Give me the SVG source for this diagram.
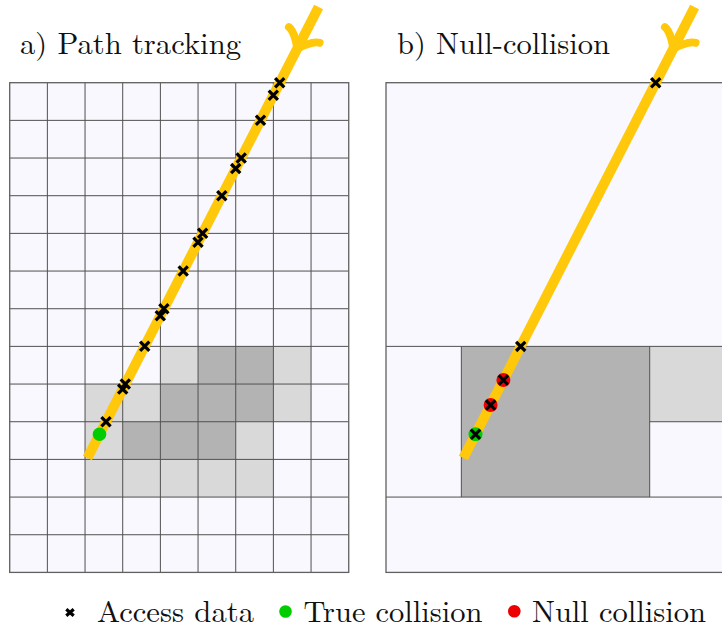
<svg xmlns="http://www.w3.org/2000/svg" width="722" height="630" viewBox="0 0 722 630">
<defs>
<style>
.bg{fill:#f8f8fe}
.lt{fill:#d9d9d9}
.dk{fill:#b3b3b3}
.grid{fill:none;stroke:#505050;stroke-width:1}
.border{fill:none;stroke:#606060;stroke-width:1.3}
.ray{fill:none;stroke:#ffc80a;stroke-width:10;stroke-linecap:butt}
.barb{fill:none;stroke:#ffc80a;stroke-width:8;stroke-linecap:round;stroke-linejoin:round}
.xm{fill:none;stroke:#000;stroke-width:3.2;stroke-linecap:butt}
</style>
<path id="cross" class="xm" d="M-4.6,-4.6L4.6,4.6M-4.6,4.6L4.6,-4.6"/>
<path id="barbs" class="barb" d="M-16.1,-17.2C-15.05,-10.75 -3.2,-1.08 0,0C-3.2,1.08 -15.05,10.75 -16.1,17.2"/>
</defs>

<g id="title-a"><text font-family="'Latin Modern Roman','Liberation Serif',serif" font-size="30" fill="#111" x="20" y="53.5" textLength="221" lengthAdjust="spacingAndGlyphs">a) Path tracking</text></g>
<g id="title-b"><text font-family="'Latin Modern Roman','Liberation Serif',serif" font-size="30" fill="#111" x="397" y="53.5" textLength="213" lengthAdjust="spacingAndGlyphs">b) Null-collision</text></g>

<g id="panel-a">
<rect class="bg" x="9.7" y="82.7" width="339.03" height="489.71"/>
<g id="cells-a">
<rect class="lt" x="160.38" y="346.39" width="37.67" height="37.67"/>
<rect class="dk" x="198.05" y="346.39" width="37.67" height="37.67"/>
<rect class="dk" x="235.72" y="346.39" width="37.67" height="37.67"/>
<rect class="lt" x="273.39" y="346.39" width="37.67" height="37.67"/>
<rect class="lt" x="85.04" y="384.06" width="37.67" height="37.67"/>
<rect class="lt" x="122.71" y="384.06" width="37.67" height="37.67"/>
<rect class="dk" x="160.38" y="384.06" width="37.67" height="37.67"/>
<rect class="dk" x="198.05" y="384.06" width="37.67" height="37.67"/>
<rect class="dk" x="235.72" y="384.06" width="37.67" height="37.67"/>
<rect class="lt" x="273.39" y="384.06" width="37.67" height="37.67"/>
<rect class="lt" x="85.04" y="421.73" width="37.67" height="37.67"/>
<rect class="dk" x="122.71" y="421.73" width="37.67" height="37.67"/>
<rect class="dk" x="160.38" y="421.73" width="37.67" height="37.67"/>
<rect class="dk" x="198.05" y="421.73" width="37.67" height="37.67"/>
<rect class="lt" x="235.72" y="421.73" width="37.67" height="37.67"/>
<rect class="lt" x="85.04" y="459.4" width="188.35" height="37.67"/>
</g>
<path class="grid" d="M47.37,82.7V572.41M85.04,82.7V572.41M122.71,82.7V572.41M160.38,82.7V572.41M198.05,82.7V572.41M235.72,82.7V572.41M273.39,82.7V572.41M311.06,82.7V572.41
M9.7,120.37H348.73M9.7,158.04H348.73M9.7,195.71H348.73M9.7,233.38H348.73M9.7,271.05H348.73M9.7,308.72H348.73M9.7,346.39H348.73M9.7,384.06H348.73M9.7,421.73H348.73M9.7,459.4H348.73M9.7,497.07H348.73M9.7,534.74H348.73"/>
<rect class="border" x="9.7" y="82.7" width="339.03" height="489.71"/>
</g>

<g id="panel-b">
<rect class="bg" x="386" y="82.7" width="339" height="489.71"/>
<rect class="dk" x="461.34" y="346.39" width="188.35" height="150.68"/>
<rect class="lt" x="649.69" y="346.39" width="75.31" height="75.34"/>
<path class="grid" d="M386,346.39H725M386,497.07H725M461.34,346.39V497.07M649.69,346.39V497.07M649.69,421.73H725"/>
<rect class="border" x="386" y="82.7" width="339" height="489.71"/>
</g>

<g id="connectors">
<g id="ray-a">
<path class="ray" d="M87.4,458L318.6,7"/>
<use href="#barbs" transform="translate(296.9,49.3) rotate(117.13)"/>
</g>
<g id="ray-b">
<path class="ray" d="M463.4,458L694.6,7"/>
<use href="#barbs" transform="translate(672.9,49.3) rotate(117.13)"/>
</g>
</g>

<g id="marks-a">
<circle cx="99.5" cy="434.3" r="6.8" fill="#00cc00"/>
<use href="#cross" x="279.7" y="82.7"/>
<use href="#cross" x="273.3" y="95.3"/>
<use href="#cross" x="260.5" y="120.3"/>
<use href="#cross" x="241.2" y="158"/>
<use href="#cross" x="235.7" y="168.6"/>
<use href="#cross" x="221.8" y="195.7"/>
<use href="#cross" x="202.6" y="233.3"/>
<use href="#cross" x="198" y="242.2"/>
<use href="#cross" x="183.2" y="271"/>
<use href="#cross" x="163.9" y="308.7"/>
<use href="#cross" x="160.3" y="315.8"/>
<use href="#cross" x="144.7" y="346.3"/>
<use href="#cross" x="125.3" y="384"/>
<use href="#cross" x="122.7" y="389.1"/>
<use href="#cross" x="106" y="421.7"/>
</g>

<g id="marks-b">
<circle cx="503.4" cy="380" r="7" fill="#ee0000"/>
<circle cx="490.6" cy="405" r="7" fill="#ee0000"/>
<circle cx="475.5" cy="434.3" r="7" fill="#00cc00"/>
<use href="#cross" x="655.7" y="82.7"/>
<use href="#cross" x="520.7" y="346.4"/>
<use href="#cross" x="503.4" y="380"/>
<use href="#cross" x="490.6" y="405"/>
<use href="#cross" x="475.5" y="434.3"/>
</g>

<g id="legend">
<path class="xm" d="M66.3,609.2L73.7,615.8M66.3,615.8L73.7,609.2" stroke-width="2.4"/>
<text font-family="'Latin Modern Roman','Liberation Serif',serif" font-size="30" fill="#111" x="97" y="621.5" textLength="157" lengthAdjust="spacingAndGlyphs">Access data</text>
<circle cx="285.5" cy="611.5" r="6.3" fill="#00cc00"/>
<text font-family="'Latin Modern Roman','Liberation Serif',serif" font-size="30" fill="#111" x="303.5" y="621.5" textLength="179" lengthAdjust="spacingAndGlyphs">True collision</text>
<circle cx="514.3" cy="611.3" r="6.3" fill="#ee0000"/>
<text font-family="'Latin Modern Roman','Liberation Serif',serif" font-size="30" fill="#111" x="532" y="621.5" textLength="174" lengthAdjust="spacingAndGlyphs">Null collision</text>
</g>
</svg>
